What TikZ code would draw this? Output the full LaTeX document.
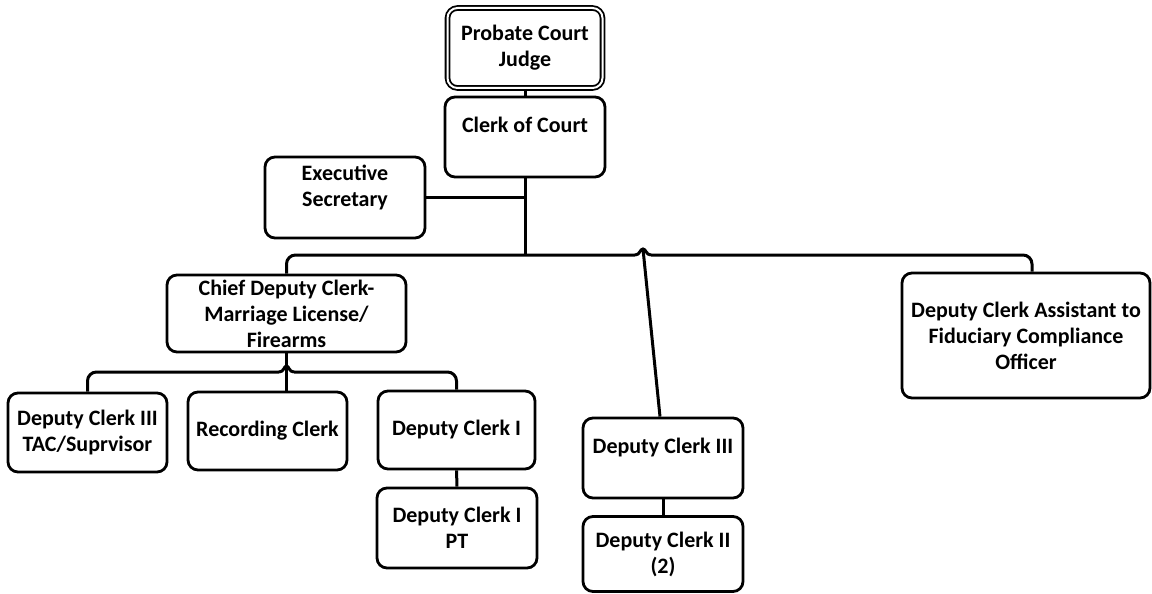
\documentclass[tikz,border=0pt]{standalone}
\usepackage{fontspec}
\setmainfont{Carlito}
\begin{document}
\begin{tikzpicture}[x=1pt, y=1pt,
    box/.style={draw, line width=2.8pt, rounded corners=10pt, fill=white, align=center,
        inner sep=3pt, font=\fontsize{22}{26}\selectfont\bfseries},
    link/.style={line width=3pt},
    upper/.style={text depth=24pt}]
    \useasboundingbox (0,0) rectangle (1152,-594);
    % the boxes, top to bottom
    \node[box, line width=1.8pt, double, double distance=2pt, minimum width=155pt, minimum height=80pt]
        (judge) at (525,-48) {Probate Court\\Judge};
    \node[box, upper, minimum width=160pt, minimum height=80pt] (clerk) at (525,-137) {Clerk of Court};
    \node[box, upper, minimum width=160pt, minimum height=81pt] (exec) at (345,-197.5) {Executive\\Secretary};
    \node[box, minimum width=239pt, minimum height=77pt] (chief) at (286.5,-313.5)
        {Chief Deputy Clerk-\\Marriage License/\\Firearms};
    \node[box, minimum width=248pt, minimum height=125pt] (assist) at (1026,-335.5)
        {Deputy Clerk Assistant to\\Fiduciary Compliance\\Officer};
    \node[box, minimum width=159pt, minimum height=79pt] (tac) at (87.5,-432.5) {Deputy Clerk III\\TAC/Suprvisor};
    \node[box, minimum width=159pt, minimum height=78pt] (rec) at (267.5,-431) {Recording Clerk};
    \node[box, minimum width=157pt, minimum height=78pt] (dc1) at (456.5,-430) {Deputy Clerk I};
    \node[box, minimum width=160pt, minimum height=80pt] (dc1pt) at (457,-528) {Deputy Clerk I\\PT};
    \node[box, upper, minimum width=160pt, minimum height=80pt] (dc3) at (663,-458) {Deputy Clerk III};
    \node[box, minimum width=160pt, minimum height=75pt] (dc2) at (663,-554) {Deputy Clerk II\\(2)};
    % points on the bars (the small jumps where lines cross)
    \coordinate (hub) at (525,-255);
    \coordinate (jumpL) at (635,-255);
    \coordinate (jumpT) at (643,-249);
    \coordinate (jumpR) at (651,-255);
    \coordinate (forkL) at (279,-372);
    \coordinate (forkT) at (286.5,-366);
    \coordinate (forkR) at (294,-372);
    % the lines
    \draw[link] (judge) -- (clerk);
    \draw[link] (clerk) -- (hub);
    \draw[link] (exec.east) -- (exec.east -| hub);
    \draw[link, rounded corners=9pt] (chief.north) |- (jumpL);
    \draw[link] (jumpL) .. controls (640,-255) and (640,-249) .. (jumpT)
        .. controls (646,-249) and (646,-255) .. (jumpR);
    \draw[link, rounded corners=9pt] (jumpR) -| ([xshift=6pt]assist.north);
    \draw[link] (jumpT) -- ([xshift=-3pt]dc3.north);
    \draw[link, rounded corners=9pt] (tac.north) |- (forkL);
    \draw[link] (forkL) .. controls (284,-372) and (284,-366) .. (forkT)
        .. controls (289,-366) and (289,-372) .. (forkR);
    \draw[link, rounded corners=9pt] (forkR) -| (dc1.north);
    \draw[link] (chief.south) -- (chief.south |- rec.north);
    \draw[link] (dc1) -- (dc1pt);
    \draw[link] (dc3) -- (dc2);
\end{tikzpicture}
\end{document}
